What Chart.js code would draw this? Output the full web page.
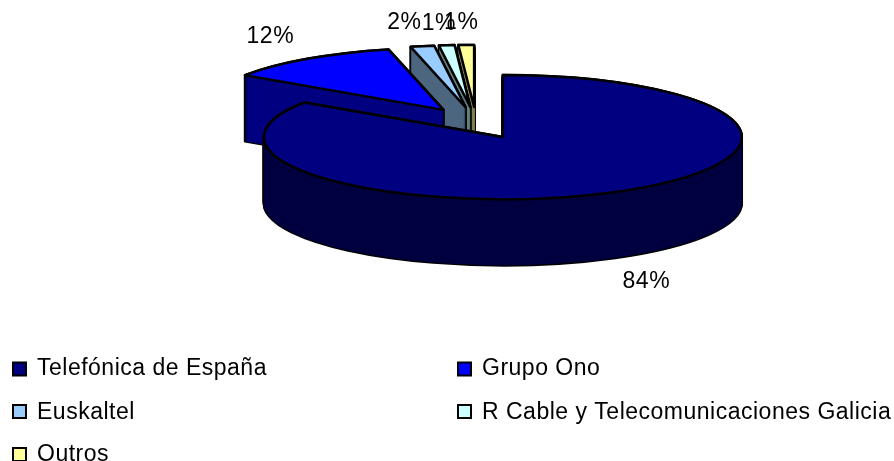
<!DOCTYPE html>
<html>
<head>
<meta charset="utf-8">
<style>html,body{margin:0;padding:0;background:#fff}canvas{display:block}</style>
<script src="https://cdn.jsdelivr.net/npm/chart.js@4/dist/chart.umd.min.js"></script>
</head>
<body>
<canvas id="c" width="894" height="461"></canvas>
<script>
const categories = ['Telefónica de España', 'Grupo Ono', 'Euskaltel', 'R Cable y Telecomunicaciones Galicia', 'Outros'];
const shares = [84.4, 11.9, 1.6, 1.05, 1.05];
const topColours = ['#000080', '#0000FF', '#99CCFF', '#CCFFFF', '#FFFF99'];
const wallColours = ['#000040', '#000080', '#4D6680', '#668080', '#80804D'];
const paintOrder = [4, 3, 2, 1, 0];
const labelNudges = [[31, 24], [-37, -22], [-18, -24], [-8, -22], [-5, -22]];

const PIE = {cx: 476, cy: 123, radius: 239, squash: 0.26, explode: 57, explodeSquash: 0.28, depth: 66, line: 2.5};
const LEGEND = {font: '23px "Liberation Sans", Arial, sans-serif', spacing: '0.5px', box: 13,
  slots: [[13, 369, 369], [458, 369, 369], [13, 413, 411.5], [458, 413, 411.5], [13, 455, 454.5]]};

function flatArc(arc, bg, border, width) {
  const c = Object.create(arc);
  c.options = {backgroundColor: bg, borderColor: border, borderWidth: width, borderAlign: 'center',
    borderJoinStyle: 'round', offset: 0, spacing: 0, angle: undefined, circular: true,
    borderRadius: 0, borderDash: [], borderDashOffset: 0, selfJoin: false};
  return c;
}
function place(ctx, arc, z) {
  const mid = (arc.startAngle + arc.endAngle) / 2;
  ctx.translate(PIE.cx + Math.cos(mid) * PIE.explode,
                PIE.cy + Math.sin(mid) * PIE.explode * PIE.explodeSquash + z);
  ctx.scale(1, PIE.squash);
  ctx.translate(-arc.x, -arc.y);
}
const pie3d = {
  id: 'pie3d',
  beforeDatasetsDraw(chart) {
    const ctx = chart.ctx;
    const arcs = chart.getDatasetMeta(0).data;
    const nativeStroke = ctx.stroke;
    ctx.stroke = function () {
      const t = this.getTransform();
      this.setTransform(1, 0, 0, 1, 0, 0);
      nativeStroke.call(this);
      this.setTransform(t);
    };
    const layer = (arc, z, bg, border, width) => {
      ctx.save();
      place(ctx, arc, z);
      flatArc(arc, bg, border, width).draw(ctx);
      ctx.restore();
    };
    paintOrder.forEach(i => {
      const arc = arcs[i];
      for (let z = PIE.depth; z >= 0; z -= 1) layer(arc, z, '#000', '#000', PIE.line);
      for (let z = PIE.depth; z >= 0; z -= 1) layer(arc, z, wallColours[i], wallColours[i], 0);
      layer(arc, 0, topColours[i], '#000', PIE.line);
    });
    delete ctx.stroke;

    ctx.save();
    ctx.fillStyle = '#000';
    ctx.font = LEGEND.font;
    ctx.letterSpacing = LEGEND.spacing;
    ctx.textAlign = 'center';
    ctx.textBaseline = 'middle';
    arcs.forEach((arc, i) => {
      const mid = (arc.startAngle + arc.endAngle) / 2;
      const ax = PIE.cx + Math.cos(mid) * PIE.explode;
      const ay = PIE.cy + Math.sin(mid) * PIE.explode * PIE.explodeSquash;
      const wall = Math.sin(mid) > 0 ? PIE.depth : 0;
      ctx.fillText(Math.round(shares[i]) + '%',
        ax + Math.cos(mid) * PIE.radius + labelNudges[i][0],
        ay + Math.sin(mid) * PIE.radius * PIE.squash + wall + labelNudges[i][1]);
    });
    ctx.textAlign = 'left';
    categories.forEach((name, i) => {
      const [x, textY, boxY] = LEGEND.slots[i];
      ctx.fillStyle = topColours[i];
      ctx.strokeStyle = '#000';
      ctx.lineWidth = 2;
      ctx.fillRect(x, boxY - LEGEND.box / 2, LEGEND.box, LEGEND.box);
      ctx.strokeRect(x, boxY - LEGEND.box / 2, LEGEND.box, LEGEND.box);
      ctx.fillStyle = '#000';
      ctx.fillText(name, x + 24, textY);
    });
    ctx.restore();
    return false;
  }
};
new Chart(document.getElementById('c'), {
  type: 'pie',
  data: {labels: categories, datasets: [{data: shares, backgroundColor: topColours}]},
  options: {
    responsive: false,
    animation: false,
    radius: PIE.radius,
    layout: {padding: 0},
    plugins: {legend: {display: false}, tooltip: {enabled: false}}
  },
  plugins: [pie3d]
});
</script>
</body>
</html>
